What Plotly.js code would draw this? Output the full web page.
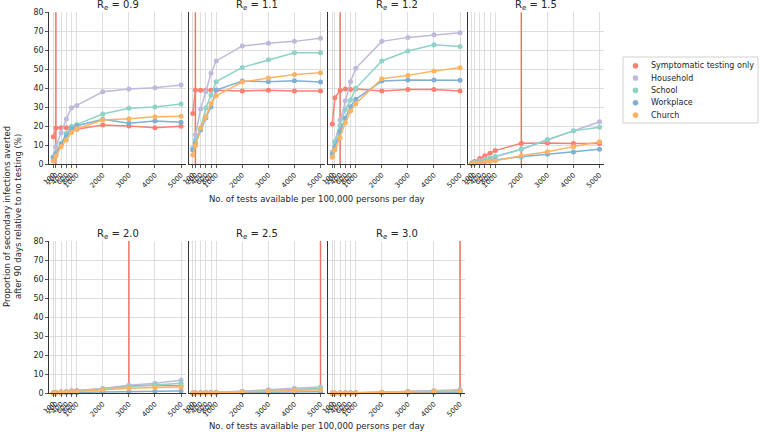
<!DOCTYPE html>
<html>
<head>
<meta charset="utf-8">
<script src="https://cdn.plot.ly/plotly-3.0.1.min.js"></script>
<style>html,body{margin:0;padding:0;background:#fff;}#chart{width:760px;height:432px;}</style>
</head>
<body>
<div id="chart"></div>
<script>
// ---- data ----
const tests = [100, 200, 400, 600, 800, 1000, 2000, 3000, 4000, 5000];
const tickLabels = ["100", "200", "400", "600", "800", "1000", "2000", "3000", "4000", "5000"];
const reValues = ["0.9", "1.1", "1.2", "1.5", "2.0", "2.5", "3.0"];
const thresholds = [200, 200, 400, 2000, 3000, 5000, 5000];
const seriesNames = ["Symptomatic testing only", "Household", "School", "Workplace", "Church"];
const seriesColors = ["#fb8072", "#bebada", "#8dd3c7", "#80b1d3", "#fdb462"];

// one row per panel (Re 0.9, 1.1, 1.2, 1.5, 2.0, 2.5, 3.0)
const symptomatic = [
  [14.5, 19.1, 19.3, 19.3, 19.6, 18.4, 20.7, 20.2, 19.3, 20.0],
  [26.8, 39.1, 39.0, 39.0, 39.0, 39.0, 38.6, 39.0, 38.6, 38.6],
  [21.2, 35.0, 38.9, 39.6, 39.4, 39.6, 38.6, 39.4, 39.4, 38.6],
  [0.7, 1.5, 3.0, 4.5, 5.8, 7.2, 11.1, 11.2, 10.9, 11.0],
  [0.3, 0.5, 0.8, 1.0, 1.3, 1.5, 2.4, 4.0, 4.2, 4.0],
  [0.2, 0.3, 0.4, 0.4, 0.5, 0.5, 1.0, 1.6, 2.0, 2.2],
  [0.1, 0.2, 0.2, 0.3, 0.3, 0.3, 0.6, 1.0, 1.3, 1.5]
];
const household = [
  [4.0, 9.3, 16.6, 23.8, 29.8, 31.0, 38.2, 39.6, 40.3, 41.7],
  [8.0, 15.5, 29.1, 38.2, 47.9, 54.4, 62.3, 63.7, 64.7, 66.3],
  [6.6, 11.9, 23.3, 33.5, 43.5, 50.5, 64.7, 66.8, 68.2, 69.3],
  [0.5, 1.0, 1.8, 2.5, 3.2, 4.0, 7.8, 12.8, 17.5, 22.4],
  [0.2, 0.4, 0.6, 0.9, 1.1, 1.3, 2.5, 4.2, 5.3, 6.8],
  [0.1, 0.2, 0.3, 0.4, 0.4, 0.5, 1.0, 1.8, 2.6, 3.3],
  [0.1, 0.1, 0.2, 0.2, 0.2, 0.3, 0.6, 1.0, 1.4, 1.8]
];
const school = [
  [3.2, 5.8, 11.0, 16.3, 20.0, 21.0, 26.5, 29.5, 30.2, 31.7],
  [8.6, 12.8, 19.0, 29.6, 36.5, 43.5, 51.0, 55.0, 58.7, 58.7],
  [5.4, 11.9, 20.7, 28.9, 33.8, 40.0, 54.4, 59.6, 62.9, 62.0],
  [0.5, 1.0, 1.8, 2.6, 3.3, 4.1, 8.0, 13.0, 17.6, 19.5],
  [0.2, 0.3, 0.5, 0.8, 1.0, 1.2, 2.2, 3.5, 4.5, 5.3],
  [0.1, 0.1, 0.2, 0.3, 0.3, 0.4, 0.8, 1.4, 2.0, 2.5],
  [0.0, 0.1, 0.1, 0.2, 0.2, 0.2, 0.5, 0.8, 1.1, 1.4]
];
const workplace = [
  [3.7, 5.4, 10.7, 15.0, 18.9, 20.3, 23.7, 21.6, 22.8, 22.1],
  [7.5, 11.0, 18.0, 24.4, 30.3, 39.1, 43.8, 43.5, 44.0, 43.3],
  [5.2, 9.3, 17.2, 24.2, 30.3, 34.2, 43.8, 44.4, 44.4, 44.2],
  [0.3, 0.6, 1.0, 1.4, 1.8, 2.3, 4.0, 5.3, 6.5, 7.9],
  [0.1, 0.1, 0.2, 0.3, 0.3, 0.4, 0.7, 0.9, 1.1, 1.2],
  [0.0, 0.1, 0.1, 0.1, 0.1, 0.2, 0.3, 0.5, 0.6, 0.8],
  [0.0, 0.0, 0.1, 0.1, 0.1, 0.1, 0.2, 0.3, 0.4, 0.5]
];
const church = [
  [1.7, 4.4, 9.3, 12.8, 16.8, 18.7, 23.3, 24.0, 25.0, 25.3],
  [4.9, 9.8, 19.3, 25.0, 32.0, 36.1, 43.3, 45.4, 47.3, 48.2],
  [3.7, 7.5, 14.0, 21.9, 28.0, 31.9, 45.0, 46.8, 49.1, 50.8],
  [0.2, 0.5, 0.8, 1.2, 1.6, 1.9, 4.5, 6.6, 9.3, 11.9],
  [0.1, 0.2, 0.4, 0.5, 0.7, 0.8, 2.0, 2.7, 3.0, 3.3],
  [0.0, 0.1, 0.1, 0.2, 0.2, 0.3, 0.7, 1.1, 1.5, 1.8],
  [0.0, 0.1, 0.1, 0.1, 0.1, 0.2, 0.4, 0.7, 0.9, 1.1]
];
const allSeries = [symptomatic, household, school, workplace, church];
const xTitle = "No. of tests available per 100,000 persons per day";
const yTitle = "Proportion of secondary infections averted<br>after 90 days relative to no testing (%)";

// ---- layout helpers ----
const W = 760, H = 432;
const px = p => p / W;
const py = p => 1 - p / H;
const colLeft = [49.3, 188.8, 328.3, 467.8];
const panelW = 136.4;
const rowTop = [12.3, 241.0];
const rowBot = [164.3, 393.3];
const titleY = [6.0, 234.5];
const FONT = "DejaVu Sans, sans-serif";
const TXT = "#262626";

const traces = [];
const layout = {
  width: W, height: H,
  margin: {l: 0, r: 0, t: 0, b: 0},
  paper_bgcolor: "#ffffff",
  plot_bgcolor: "#ffffff",
  showlegend: false,
  font: {family: FONT, color: TXT, size: 8},
  annotations: [],
  shapes: []
};

reValues.forEach((re, p) => {
  const row = p < 4 ? 0 : 1;
  const col = p < 4 ? p : p - 4;
  const sfx = p === 0 ? "" : String(p + 1);
  const xa = "x" + sfx, ya = "y" + sfx;
  const x0 = colLeft[col], x1 = colLeft[col] + panelW;
  layout["xaxis" + sfx] = {
    domain: [px(x0), px(x1)],
    anchor: ya,
    range: [-53, 5180],
    tickvals: tests,
    ticktext: tickLabels,
    tickangle: -45,
    tickfont: {size: 7, color: TXT, family: FONT},
    showgrid: true, gridcolor: "#d6d6d6", gridwidth: 0.8,
    zeroline: false,
    showline: true, linecolor: "#333333", linewidth: 1,
    ticks: "outside", ticklen: 3, tickcolor: "#333333", tickwidth: 0.8,
    fixedrange: true
  };
  layout["yaxis" + sfx] = {
    domain: [py(rowBot[row]), py(rowTop[row])],
    anchor: xa,
    range: [0, 80],
    dtick: 10, tick0: 0,
    showticklabels: col === 0,
    tickfont: {size: 8, color: TXT, family: FONT},
    showgrid: true, gridcolor: "#d6d6d6", gridwidth: 0.8,
    zeroline: false,
    showline: true, linecolor: "#333333", linewidth: 1,
    ticks: col === 0 ? "outside" : "", ticklen: 3, tickcolor: "#333333", tickwidth: 0.8,
    fixedrange: true
  };
  // threshold line
  traces.push({
    type: "scatter", mode: "lines",
    x: [thresholds[p], thresholds[p]], y: [0, 80],
    xaxis: xa, yaxis: ya,
    line: {color: "#f07468", width: 1.5},
    hoverinfo: "skip", showlegend: false, cliponaxis: false
  });
  allSeries.forEach((s, k) => {
    traces.push({
      type: "scatter", mode: "lines+markers",
      name: seriesNames[k],
      x: tests, y: s[p],
      xaxis: xa, yaxis: ya,
      line: {color: seriesColors[k], width: 1.5},
      marker: {color: seriesColors[k], size: 5},
      showlegend: false, cliponaxis: false
    });
  });
  layout.annotations.push({
    xref: "paper", yref: "paper",
    x: px((x0 + x1) / 2), y: py(titleY[row]),
    xanchor: "center", yanchor: "middle",
    text: "R<sub>e</sub> = " + re,
    showarrow: false, borderpad: 0,
    font: {size: 10, color: TXT, family: FONT}
  });
});

// x-axis titles (one per row)
[199, 426].forEach(yc => {
  layout.annotations.push({
    xref: "paper", yref: "paper",
    x: px(317), y: py(yc),
    xanchor: "center", yanchor: "middle",
    text: xTitle, showarrow: false,
    font: {size: 8.5, color: TXT, family: FONT}
  });
});
// y-axis title
layout.annotations.push({
  xref: "paper", yref: "paper",
  x: px(13), y: py(217),
  xanchor: "center", yanchor: "middle",
  text: yTitle, textangle: -90, showarrow: false,
  font: {size: 8.5, color: TXT, family: FONT}
});

// legend (drawn in paper space)
const legX0 = 623, legX1 = 758, legY0 = 57, legY1 = 123;
layout.shapes.push({
  type: "rect", xref: "paper", yref: "paper",
  x0: px(legX0), x1: px(legX1), y0: py(legY1), y1: py(legY0),
  line: {color: "#d0d0d0", width: 1}, fillcolor: "rgba(255,255,255,0.8)"
});
seriesNames.forEach((nm, k) => {
  const yc = 65.7 + k * 12.35;
  const r = 2.8, cx = 635.5;
  layout.shapes.push({
    type: "circle", xref: "paper", yref: "paper",
    x0: px(cx - r), x1: px(cx + r), y0: py(yc + r), y1: py(yc - r),
    fillcolor: seriesColors[k], line: {width: 0}
  });
  layout.annotations.push({
    xref: "paper", yref: "paper",
    x: px(649), y: py(yc),
    xanchor: "left", yanchor: "middle",
    text: nm, showarrow: false,
    font: {size: 8, color: TXT, family: FONT}
  });
});

Plotly.newPlot("chart", traces, layout, {staticPlot: true, displayModeBar: false});
</script>
</body>
</html>
